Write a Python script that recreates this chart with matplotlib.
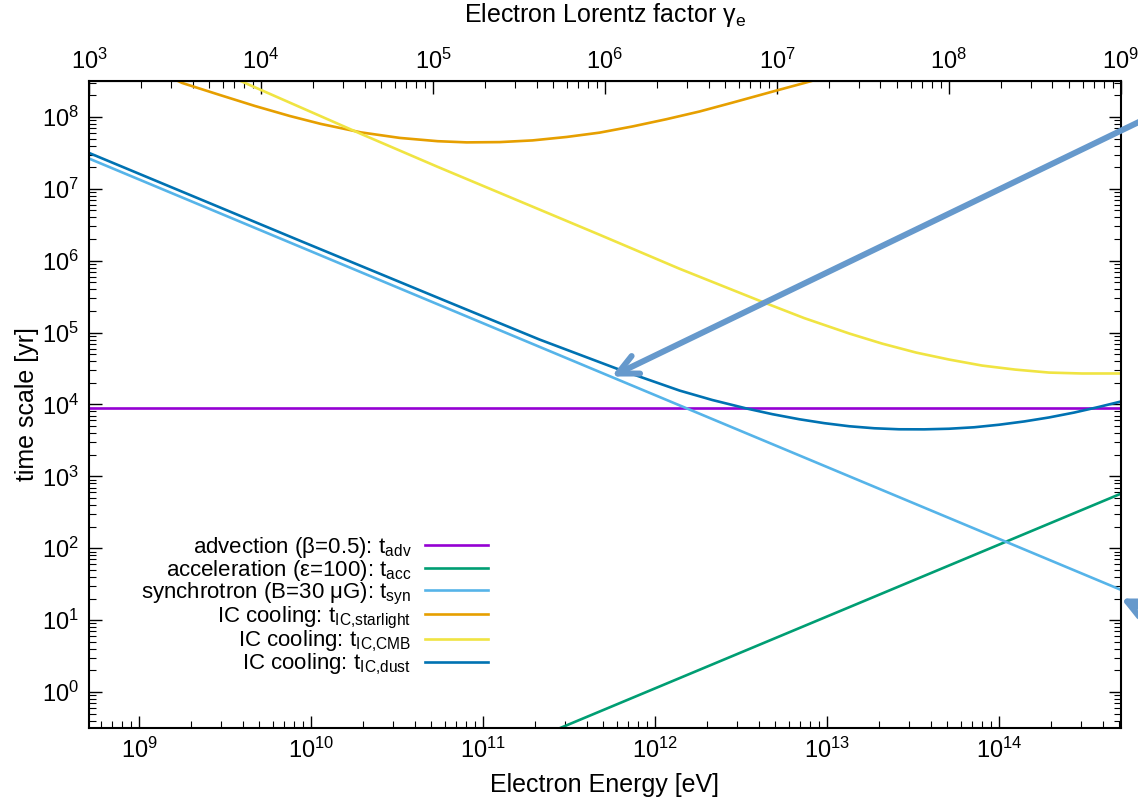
import matplotlib
matplotlib.use("Agg")
import matplotlib.pyplot as plt
from matplotlib.ticker import (FixedLocator, LogLocator, LogFormatterMathtext,
                               NullFormatter)

plt.rcParams["font.family"] = ["Liberation Sans", "DejaVu Sans"]
plt.rcParams["mathtext.fontset"] = "custom"
plt.rcParams["mathtext.rm"] = "Liberation Sans"
plt.rcParams["mathtext.it"] = "Liberation Sans:italic"
plt.rcParams["mathtext.default"] = "regular"

# electron rest energy [eV], converts energy to Lorentz factor
ME_C2 = 5.11e5

# tick positions
energy_ticks = [1e9, 1e10, 1e11, 1e12, 1e13, 1e14]
gamma_ticks = [1e3, 1e4, 1e5, 1e6, 1e7, 1e8, 1e9]
time_ticks = [1e0, 1e1, 1e2, 1e3, 1e4, 1e5, 1e6, 1e7, 1e8]

# timescales [yr] versus electron energy [eV]
adv_E = [5.11e8, 5.11e14]
adv_t = [8.8e3, 8.8e3]

acc_E = [5.11e8, 5.11e14]
acc_t = [5.75e-4, 5.75e2]

syn_E = [5.11e8, 5.11e14]
syn_t = [2.64e7, 26.4]

star_E = [1.62e9, 1.78e9, 2.95e9, 4.72e9, 7.53e9, 1.14e10, 1.95e10, 3.28e10,
          5.45e10, 8.03e10, 1.25e11, 1.94e11, 3.06e11, 4.75e11, 7.39e11,
          1.16e12, 1.81e12, 2.81e12, 5.07e12, 7.38e12, 1.03e13]
star_t = [3.3e8, 2.97e8, 2.02e8, 1.42e8, 1.03e8, 8.0e7, 6.10e7, 5.11e7,
          4.60e7, 4.43e7, 4.47e7, 4.72e7, 5.27e7, 6.05e7, 7.38e7,
          9.29e7, 1.19e8, 1.58e8, 2.33e8, 2.97e8, 3.71e8]

cmb_E = [3.16e9, 4.13e9, 1.95e10, 5.45e10, 4.75e11, 1.386e12, 4.04e12, 7.37e12,
         1.35e13, 2.09e13, 3.30e13, 5.12e13, 7.96e13, 1.24e14, 1.95e14,
         3.03e14, 5.11e14]
cmb_t = [3.95e8, 2.97e8, 5.81e7, 2.02e7, 2.30e6, 7.74e5, 2.78e5, 1.59e5,
         9.69e4, 7.03e4, 5.27e4, 4.22e4, 3.48e4, 3.06e4, 2.78e4,
         2.70e4, 2.70e4]

dust_E = [5.11e8, 8.6e9, 6.4e10, 2.13e11, 5.97e11, 1.39e12, 2.15e12, 3.40e12,
          4.81e12, 6.90e12, 9.63e12, 1.346e13, 1.88e13, 2.62e13, 3.67e13,
          5.12e13, 7.16e13, 1.0e14, 1.40e14, 1.95e14, 2.73e14, 3.81e14, 5.11e14]
dust_t = [3.16e7, 1.90e6, 2.61e5, 8.0e4, 3.16e4, 1.56e4, 1.155e4, 8.8e3,
          7.33e3, 6.23e3, 5.50e3, 4.98e3, 4.67e3, 4.52e3, 4.51e3,
          4.60e3, 4.82e3, 5.23e3, 5.81e3, 6.6e3, 7.72e3, 9.26e3, 1.10e4]

labels = [
    r"advection ($\beta$=0.5): t$_{adv}$",
    r"acceleration ($\epsilon$=100): t$_{acc}$",
    r"synchrotron (B=30 $\mu$G): t$_{syn}$",
    r"IC cooling: t$_{IC{,}starlight}$",
    r"IC cooling: t$_{IC{,}CMB}$",
    r"IC cooling: t$_{IC{,}dust}$",
]
colors = ["#9400d3", "#009e73", "#56b4e9", "#e69f00", "#f0e442", "#0072b2"]

fig = plt.figure(figsize=(11.38, 7.99), dpi=100)
ax = fig.add_axes([0.0782, 0.0889, 0.9068, 0.8097])

series = [(adv_E, adv_t), (acc_E, acc_t), (syn_E, syn_t),
          (star_E, star_t), (cmb_E, cmb_t), (dust_E, dust_t)]
for (E, t), c, lab in zip(series, colors, labels):
    ax.plot(E, t, color=c, lw=1.9, label=lab)

ax.set_xscale("log")
ax.set_yscale("log")
ax.set_xlim(5.11e8, 5.11e14)
ax.set_ylim(10**-0.5, 10**8.5)

ax.xaxis.set_major_locator(FixedLocator(energy_ticks))
ax.xaxis.set_minor_locator(LogLocator(base=10, subs=range(2, 10), numticks=100))
ax.yaxis.set_major_locator(FixedLocator(time_ticks))
ax.yaxis.set_minor_locator(LogLocator(base=10, subs=range(2, 10), numticks=100))
ax.xaxis.set_major_formatter(LogFormatterMathtext())
ax.yaxis.set_major_formatter(LogFormatterMathtext())
ax.xaxis.set_minor_formatter(NullFormatter())
ax.yaxis.set_minor_formatter(NullFormatter())
ax.tick_params(which="both", direction="in", top=False, right=True, labelsize=17)
ax.tick_params(which="major", length=9, width=1.0, pad=7)
ax.tick_params(which="minor", length=5, width=0.8)
for s in ax.spines.values():
    s.set_linewidth(1.5)

# Lorentz factor on the top axis
top = ax.secondary_xaxis("top", functions=(lambda e: e / ME_C2, lambda g: g * ME_C2))
top.xaxis.set_major_locator(FixedLocator(gamma_ticks))
top.xaxis.set_minor_locator(LogLocator(base=10, subs=range(2, 10), numticks=100))
top.xaxis.set_major_formatter(LogFormatterMathtext())
top.xaxis.set_minor_formatter(NullFormatter())
top.tick_params(which="both", direction="in", labelsize=17)
top.tick_params(which="major", length=9, width=1.0, pad=5)
top.tick_params(which="minor", length=5, width=0.8)
top.set_xlabel(r"Electron Lorentz factor $\gamma_e$", fontsize=18, labelpad=19)

ax.set_xlabel("Electron Energy [eV]", fontsize=18, labelpad=7)
ax.set_ylabel("time scale [yr]", fontsize=18, labelpad=2)

leg = ax.legend(loc="upper right", bbox_to_anchor=(0.3866, 0.298), frameon=False,
                markerfirst=False, fontsize=16, handlelength=2.85,
                labelspacing=-0.1, handletextpad=0.6, borderpad=0,
                borderaxespad=0)
for t in leg.get_texts():
    t.set_ha("right")
leg._legend_box.align = "right"

# arrows pointing at features
arrow_col = "#6699cc"
head = "->,head_length=1.45,head_width=0.7"
ax.annotate("", xy=(5.58e11, 2.45e4), xytext=(1.11e15, 1.58e8),
            annotation_clip=False,
            arrowprops=dict(arrowstyle=head, color=arrow_col, lw=4.3,
                            shrinkA=0, shrinkB=0, clip_on=False))
ax.annotate("", xy=(5.11e14, 20.0), xytext=(2.83e15, 2.78),
            annotation_clip=False,
            arrowprops=dict(arrowstyle=head, color=arrow_col, lw=4.3,
                            shrinkA=0, shrinkB=0, clip_on=False))

fig.savefig("out.png", dpi=100)
